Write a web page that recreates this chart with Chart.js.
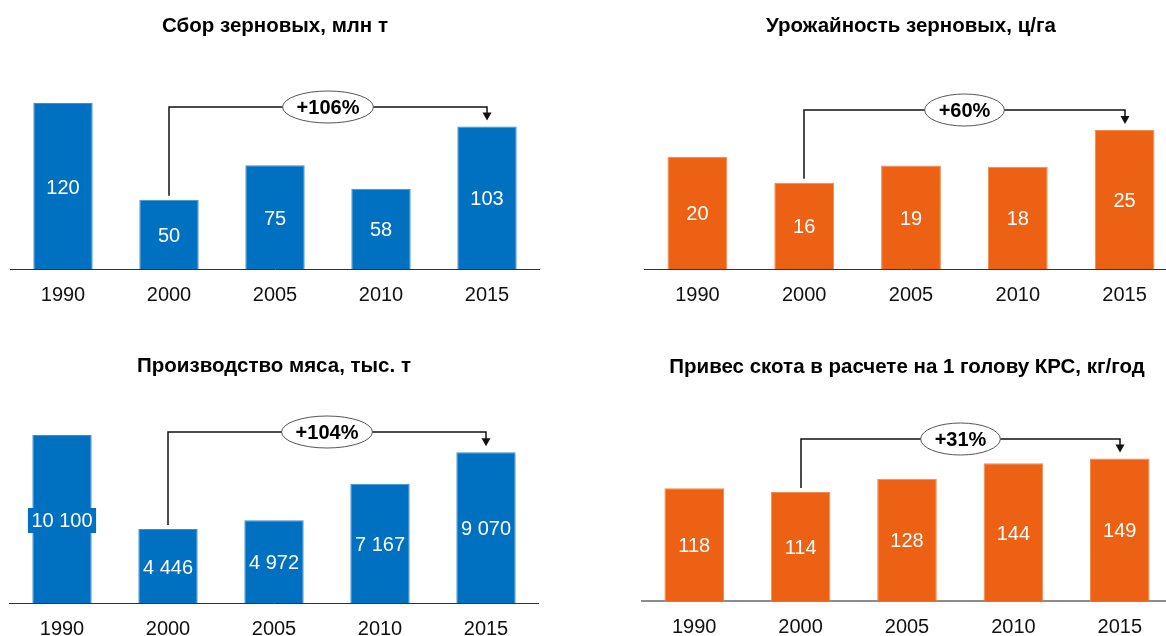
<!DOCTYPE html>
<html lang="ru">
<head>
<meta charset="utf-8">
<title>Сельское хозяйство</title>
<script src="https://cdn.jsdelivr.net/npm/chart.js@4.4.1/dist/chart.umd.min.js"></script>
<style>
  html, body { margin: 0; padding: 0; background: #fff; overflow: hidden; }
  body { width: 1166px; height: 636px; position: relative; }
  canvas { position: absolute; }
</style>
</head>
<body>
<canvas id="grainHarvestChart" style="left:10px;top:0px" width="530" height="321"></canvas>
<canvas id="grainYieldChart" style="left:644px;top:0px" width="534" height="321"></canvas>
<canvas id="meatOutputChart" style="left:9px;top:340px" width="530" height="315"></canvas>
<canvas id="cattleGainChart" style="left:641px;top:341px" width="532" height="312"></canvas>
<script>
// Data
const years = ['1990', '2000', '2005', '2010', '2015'];
const grainHarvest = [120, 50, 75, 58, 103];       // млн т
const grainYield = [20.2, 15.5, 18.6, 18.4, 25.0];  // ц/га
const meatOutput = [10100, 4446, 4972, 7167, 9070]; // тыс. т
const cattleGain = [118, 114, 128, 144, 149];       // кг/год
const growthLabels = ['+106%', '+60%', '+104%', '+31%'];
const titles = [
  'Сбор зерновых, млн т',
  'Урожайность зерновых, ц/га',
  'Производство мяса, тыс. т',
  'Привес скота в расчете на 1 голову КРС, кг/год'
];

const FONT = '"Liberation Sans", Arial, sans-serif';
const colors = {
  blue: '#0070C0',
  blueEdge: '#3d8fd0',
  orange: '#EC6113',
  orangeEdge: '#f08a4e'
};

function formatValue(v) {
  return String(Math.round(v)).replace(/\B(?=(\d{3})+(?!\d))/g, ' ');
}

// White value labels in the middle of each bar
const barLabels = {
  id: 'barLabels',
  afterDatasetsDraw(chart) {
    const ctx = chart.ctx;
    const ds = chart.data.datasets[0];
    const meta = chart.getDatasetMeta(0);
    ctx.save();
    ctx.font = '20px ' + FONT;
    ctx.textAlign = 'center';
    ctx.textBaseline = 'middle';
    meta.data.forEach((bar, i) => {
      const text = formatValue(ds.data[i]);
      const y = (bar.y + bar.base) / 2 + 2;
      const w = ctx.measureText(text).width + 7;
      if (w > bar.width) {
        ctx.fillStyle = ds.backgroundColor;
        ctx.fillRect(bar.x - w / 2, y - 13, w, 25);
      }
      ctx.fillStyle = '#ffffff';
      ctx.fillText(text, bar.x, y);
    });
    ctx.restore();
  }
};

// Bracket from one bar to another with the growth % in an ellipse
const growthArrow = {
  id: 'growthArrow',
  afterDatasetsDraw(chart, args, opts) {
    if (!opts || !opts.text) return;
    const ctx = chart.ctx;
    const bars = chart.getDatasetMeta(0).data;
    const a = bars[opts.from];
    const b = bars[opts.to];
    let top = Infinity;
    for (let i = opts.from; i <= opts.to; i++) top = Math.min(top, bars[i].y);
    const lineY = Math.round(top - 20);
    const x1 = Math.round(a.x);
    const x2 = Math.round(b.x);
    const tip = b.y - 6;

    ctx.save();
    ctx.strokeStyle = '#111';
    ctx.lineWidth = 1.5;
    ctx.beginPath();
    ctx.moveTo(x1, a.y - 4);
    ctx.lineTo(x1, lineY);
    ctx.lineTo(x2, lineY);
    ctx.lineTo(x2, tip - 7);
    ctx.stroke();

    ctx.fillStyle = '#111';
    ctx.beginPath();
    ctx.moveTo(x2 - 4.5, tip - 8);
    ctx.lineTo(x2 + 4.5, tip - 8);
    ctx.lineTo(x2, tip);
    ctx.closePath();
    ctx.fill();

    ctx.font = 'bold 20px ' + FONT;
    const tw = ctx.measureText(opts.text).width;
    const cx = (x1 + x2) / 2;
    ctx.beginPath();
    ctx.ellipse(cx, lineY, tw / 2 + 14, 16, 0, 0, Math.PI * 2);
    ctx.fillStyle = '#ffffff';
    ctx.fill();
    ctx.lineWidth = 1;
    ctx.strokeStyle = '#555';
    ctx.stroke();

    ctx.fillStyle = '#000';
    ctx.textAlign = 'center';
    ctx.textBaseline = 'middle';
    ctx.fillText(opts.text, cx, lineY + 1);
    ctx.restore();
  }
};

function createChart(canvasId, values, color, edge, yMax, title, growth, axisColor, axisWidth) {
  const ctx = document.getElementById(canvasId).getContext('2d');
  return new Chart(ctx, {
    type: 'bar',
    data: {
      labels: years,
      datasets: [{
        data: values,
        backgroundColor: color,
        borderColor: edge,
        borderWidth: 1,
        barPercentage: 0.56,
        categoryPercentage: 1
      }]
    },
    options: {
      responsive: false,
      animation: false,
      layout: { padding: 0 },
      scales: {
        x: {
          grid: { display: false, drawTicks: false },
          border: { display: true, color: axisColor, width: axisWidth },
          ticks: {
            color: '#111',
            padding: 14,
            font: { family: FONT, size: 20 }
          }
        },
        y: { display: false, min: 0, max: yMax }
      },
      plugins: {
        legend: { display: false },
        tooltip: { enabled: false },
        title: {
          display: true,
          text: title,
          color: '#000',
          font: { family: FONT, size: 20.5, weight: 'bold' },
          padding: { top: 13.7, bottom: 21.7 }
        },
        growthArrow: { from: 1, to: 4, text: growth }
      }
    },
    plugins: [barLabels, growthArrow]
  });
}

const charts = {
  grainHarvest: createChart('grainHarvestChart', grainHarvest, colors.blue, colors.blueEdge, 151.1, titles[0], growthLabels[0], '#333', 1),
  grainYield: createChart('grainYieldChart', grainYield, colors.orange, colors.orangeEdge, 37.6, titles[1], growthLabels[1], '#333', 1),
  meatOutput: createChart('meatOutputChart', meatOutput, colors.blue, colors.blueEdge, 12207, titles[2], growthLabels[2], '#333', 1),
  cattleGain: createChart('cattleGainChart', cattleGain, colors.orange, colors.orangeEdge, 209.2, titles[3], growthLabels[3], '#8c8c8c', 2)
};
</script>
</body>
</html>
